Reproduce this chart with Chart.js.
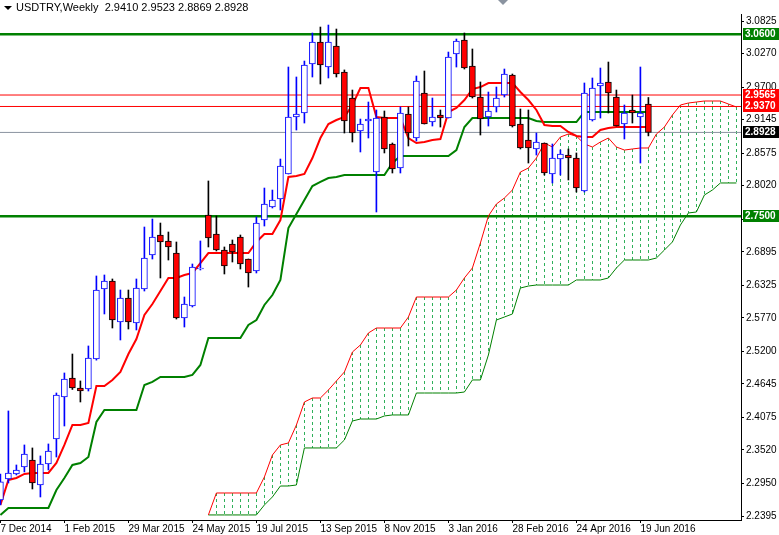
<!DOCTYPE html>
<html>
<head>
<meta charset="utf-8">
<script src="https://cdn.jsdelivr.net/npm/chart.js@4.4.0/dist/chart.umd.min.js"></script>
<style>
  html, body { margin: 0; padding: 0; background: #fff; }
  #wrap { width: 779px; height: 535px; }
</style>
</head>
<body>
<div id="wrap"><canvas id="chart" width="779" height="535"></canvas></div>
<script>
// weekly bars, index 0 = 7 Dec 2014
const dateLabels = ['7 Dec 2014', '1 Feb 2015', '29 Mar 2015', '24 May 2015', '19 Jul 2015', '13 Sep 2015', '8 Nov 2015', '3 Jan 2016', '28 Feb 2016', '24 Apr 2016', '19 Jun 2016'];
const priceTicks = [3.0825, 3.0270, 2.9700, 2.9145, 2.8575, 2.8020, 2.7450, 2.6895, 2.6325, 2.5770, 2.5200, 2.4645, 2.4075, 2.3520, 2.2950, 2.2395];

const open = [2.2668,2.3026,2.3111,2.3230,2.3349,2.2924,2.3281,2.3707,2.4422,2.4746,2.4575,2.4558,2.5069,2.6261,2.6398,2.5700,2.6108,2.5682,2.6261,2.6840,
  2.7181,2.7079,2.6874,2.5768,2.5972,2.6602,2.7522,2.7198,2.6926,2.7028,2.7147,2.6772,2.6568,2.7436,2.7658,2.7794,2.8220,2.9191,2.9259,3.0093,
  3.0468,3.0042,3.0400,2.9957,2.9514,2.8952,2.9122,2.8254,2.9191,2.8731,2.8322,2.9242,2.8833,2.9599,2.9105,2.9225,2.9173,3.0263,3.0502,3.0059,
  2.9531,2.9191,2.9361,2.9565,2.9906,2.9071,2.8799,2.8646,2.8748,2.8220,2.8475,2.8543,2.8492,2.7930,2.9139,2.9718,2.9787,2.9531,2.9071,2.9310,
  2.9191,2.9410];
const high = [2.3111,2.4184,2.3264,2.3605,2.3554,2.3418,2.3622,2.4490,2.4831,2.5154,2.4695,2.5291,2.6483,2.6500,2.6432,2.6244,2.6244,2.6432,2.7317,2.7453,
  2.7385,2.7232,2.7062,2.6125,2.6687,2.7079,2.8101,2.7505,2.6977,2.7096,2.7181,2.6772,2.7488,2.7981,2.7947,2.8475,3.0042,2.9872,3.0144,3.0621,
  3.0723,3.0757,3.0689,2.9992,2.9650,2.9156,2.9446,2.9310,2.9293,2.8748,2.9361,2.9361,2.9889,2.9974,2.9514,2.9310,3.0297,3.0519,3.0621,3.0349,
  2.9787,2.9616,2.9701,3.0008,2.9923,2.9327,2.9310,2.8918,2.8748,2.8731,2.8629,2.8646,2.8578,2.9770,2.9855,3.0025,3.0127,2.9650,2.9395,2.9565,
  3.0042,2.9523];
const low = [2.2583,2.2958,2.3094,2.3145,2.2855,2.2719,2.3179,2.3400,2.3928,2.4550,2.4337,2.4524,2.5050,2.5836,2.5597,2.5393,2.5580,2.5563,2.6227,2.6772,
  2.6449,2.6755,2.5750,2.5614,2.5955,2.6585,2.6977,2.6909,2.6517,2.6721,2.6602,2.6295,2.6534,2.7334,2.7641,2.7607,2.8220,2.8969,2.9088,2.9872,
  2.9753,2.9855,2.9872,2.8918,2.8765,2.8595,2.8833,2.7573,2.8578,2.8237,2.8237,2.8697,2.8782,2.9071,2.9037,2.9020,2.9173,3.0042,3.0008,2.9514,
  2.8884,2.9037,2.9276,2.9531,2.9020,2.8646,2.8407,2.8543,2.8203,2.8067,2.8203,2.8118,2.7913,2.7913,2.9122,2.9173,2.9259,2.9037,2.8816,2.9088,
  2.8407,2.8869];
const close = [2.2975,2.3128,2.3179,2.3451,2.2958,2.3281,2.3502,2.4456,2.4729,2.4575,2.4524,2.5086,2.6244,2.6398,2.5734,2.6108,2.5700,2.6278,2.6789,2.7147,
  2.7062,2.6977,2.5768,2.6006,2.6636,2.6619,2.7130,2.6926,2.6653,2.6891,2.6687,2.6534,2.7385,2.7709,2.7777,2.8356,2.9191,2.9242,3.0076,3.0468,
  3.0076,3.0468,2.9923,2.9122,2.8918,2.9071,2.9156,2.9173,2.8646,2.8305,2.9259,2.8918,2.9804,2.9071,2.9191,2.9173,3.0212,3.0485,3.0025,2.9531,
  2.9156,2.9293,2.9514,2.9923,2.9037,2.8663,2.8663,2.8765,2.8237,2.8492,2.8561,2.8492,2.7981,2.9599,2.9684,2.9770,2.9599,2.9037,2.9259,2.9259,
  2.9259,2.8928];

const tenkan = [2.2583,2.3009,2.3043,2.3111,2.3128,2.3128,2.3128,2.3298,2.3605,2.3945,2.3945,2.3979,2.4609,2.4609,2.4712,2.4848,2.5154,2.5410,2.5819,2.6006,
  2.6227,2.6449,2.6449,2.6500,2.6534,2.6704,2.6874,2.6874,2.6874,2.6874,2.6874,2.6874,2.7062,2.7198,2.7198,2.7436,2.8169,2.8186,2.8220,2.8492,
  2.8833,2.9071,2.9139,2.9190,2.9395,2.9684,2.9684,2.9190,2.9173,2.9173,2.9173,2.8833,2.8748,2.8765,2.8799,2.8816,2.9276,2.9344,2.9480,2.9667,
  2.9701,2.9770,2.9770,2.9770,2.9770,2.9616,2.9480,2.9310,2.9054,2.9037,2.9037,2.8935,2.8867,2.8850,2.8850,2.8969,2.9003,2.9020,2.9020,2.9020,
  2.9020,2.9020];
const kijun = [2.2413,2.2532,2.2532,2.2532,2.2532,2.2532,2.2532,2.2838,2.3043,2.3264,2.3298,2.3400,2.3996,2.4201,2.4201,2.4201,2.4201,2.4201,2.4626,2.4678,
  2.4763,2.4763,2.4763,2.4763,2.4797,2.4967,2.5427,2.5427,2.5427,2.5427,2.5427,2.5648,2.5733,2.5989,2.6159,2.6415,2.7300,2.7539,2.7777,2.8015,
  2.8084,2.8152,2.8169,2.8203,2.8203,2.8203,2.8203,2.8203,2.8203,2.8407,2.8526,2.8526,2.8526,2.8526,2.8526,2.8526,2.8526,2.8628,2.9020,2.9173,
  2.9173,2.9173,2.9173,2.9173,2.9173,2.9173,2.9173,2.9122,2.9105,2.9105,2.9105,2.9105,2.9105,2.9276,2.9276,2.9276,2.9276,2.9276,2.9276,2.9276,
  2.9276,2.9276];

// cloud, shifted 26 weeks ahead: index 26..92
const cloudStart = 26;
const spanA = [2.2413,2.2787,2.2787,2.2787,2.2787,2.2787,2.2787,2.3060,2.3434,2.3605,2.3639,2.3945,2.4337,2.4405,2.4405,2.4541,2.4695,2.4848,2.5188,2.5308,
  2.5512,2.5597,2.5597,2.5597,2.5597,2.5784,2.6125,2.6125,2.6125,2.6125,2.6125,2.6244,2.6449,2.6619,2.7045,2.7505,2.7709,2.7811,2.7947,2.8254,
  2.8322,2.8492,2.8748,2.8680,2.8850,2.8901,2.8867,2.8731,2.8680,2.8765,2.8833,2.8680,2.8628,2.8646,2.8663,2.8663,2.8901,2.9020,2.9225,2.9395,
  2.9429,2.9446,2.9463,2.9463,2.9463,2.9412,2.9361];
const spanB = [2.2413,2.2413,2.2413,2.2413,2.2413,2.2413,2.2413,2.2583,2.2719,2.2906,2.2906,2.2923,2.3554,2.3554,2.3554,2.3554,2.3554,2.3690,2.4013,2.4047,
  2.4047,2.4047,2.4099,2.4116,2.4116,2.4116,2.4490,2.4490,2.4490,2.4490,2.4490,2.4490,2.4507,2.4712,2.4712,2.5137,2.5733,2.5784,2.5836,2.6278,
  2.6312,2.6329,2.6329,2.6329,2.6329,2.6329,2.6415,2.6415,2.6415,2.6415,2.6449,2.6619,2.6755,2.6755,2.6755,2.6755,2.6789,2.6925,2.7062,2.7351,
  2.7556,2.7573,2.7862,2.7947,2.8067,2.8067,2.8067];

const levels = [
  { v: 3.0600, color: '#008000', width: 2.5, text: '3.0600', bg: '#008000' },
  { v: 2.9565, color: '#ff0000', width: 1, text: '2.9565', bg: '#ff0000' },
  { v: 2.9370, color: '#ff0000', width: 1, text: '2.9370', bg: '#ff0000' },
  { v: 2.8928, color: '#8a93a0', width: 1, text: '2.8928', bg: '#000000' },
  { v: 2.7500, color: '#008000', width: 2.5, text: '2.7500', bg: '#008000' }
];

const X_MIN = -0.05, X_MAX = 92.575;
const bullish = open.map((o, i) => close[i] >= o);

const wicks = high.map((h, i) => ({ x: i, y: [low[i], h] }));
const bodies = open.map((o, i) => ({ x: i, y: [o, close[i]] }));
const pts = arr => arr.map((v, i) => ({ x: i, y: v }));
const cloudPts = arr => arr.map((v, i) => ({ x: i + cloudStart, y: v }));

const levelSets = levels.map(l => ({
  type: 'line',
  data: [{ x: X_MIN, y: l.v }, { x: X_MAX, y: l.v }],
  borderColor: l.color,
  borderWidth: l.width,
  pointRadius: 0,
  order: 6
}));

// dashed vertical hatching between the two cloud spans
const cloudHatch = {
  id: 'cloudHatch',
  beforeDatasetsDraw(chart) {
    const { ctx, scales: { x, y } } = chart;
    ctx.save();
    ctx.strokeStyle = '#2fb05a';
    ctx.lineWidth = 1;
    ctx.setLineDash([3, 3]);
    for (let k = 0; k < spanA.length; k++) {
      const px = Math.round(x.getPixelForValue(k + cloudStart)) + 0.5;
      ctx.beginPath();
      ctx.moveTo(px, y.getPixelForValue(spanA[k]));
      ctx.lineTo(px, y.getPixelForValue(spanB[k]));
      ctx.stroke();
    }
    ctx.restore();
  }
};

const overlay = {
  id: 'overlay',
  afterDraw(chart) {
    const { ctx, scales: { y }, chartArea } = chart;
    ctx.save();
    // title
    ctx.fillStyle = '#000';
    ctx.beginPath();
    ctx.moveTo(4, 6); ctx.lineTo(12, 6); ctx.lineTo(8, 10); ctx.closePath(); ctx.fill();
    ctx.font = '11px "Liberation Sans", Arial, sans-serif';
    ctx.textBaseline = 'middle';
    ctx.fillText('USDTRY,Weekly  2.9410 2.9523 2.8869 2.8928', 16, 8);
    // shift marker
    ctx.fillStyle = '#8a93a0';
    ctx.beginPath();
    ctx.moveTo(498, 0); ctx.lineTo(508, 0); ctx.lineTo(503, 5); ctx.closePath(); ctx.fill();
    // price labels
    levels.forEach(l => {
      const py = Math.round(y.getPixelForValue(l.v));
      ctx.fillStyle = l.bg;
      ctx.fillRect(chartArea.right + 2, py - 6, 36, 12);
      ctx.fillStyle = '#fff';
      ctx.font = 'bold 10px "Liberation Sans", Arial, sans-serif';
      ctx.fillText(l.text, chartArea.right + 4, py + 0.5);
    });
    ctx.restore();
  }
};

new Chart(document.getElementById('chart').getContext('2d'), {
  data: {
    datasets: [
      {
        type: 'bar',
        data: bodies,
        barThickness: 6,
        grouped: false,
        backgroundColor: ctx => bullish[ctx.dataIndex] ? '#ffffff' : '#ff0000',
        borderColor: ctx => bullish[ctx.dataIndex] ? '#0000ff' : '#000000',
        borderWidth: 1,
        borderSkipped: false,
        order: 1
      },
      {
        type: 'bar',
        data: wicks,
        barThickness: 1,
        grouped: false,
        backgroundColor: ctx => bullish[ctx.dataIndex] ? '#0000ff' : '#000000',
        borderWidth: 0,
        order: 2
      },
      { type: 'line', data: pts(tenkan), borderColor: '#ff0000', borderWidth: 2, pointRadius: 0, order: 3 },
      { type: 'line', data: pts(kijun), borderColor: '#008000', borderWidth: 2, pointRadius: 0, order: 4 },
      { type: 'line', data: cloudPts(spanA), borderColor: '#ff0000', borderWidth: 1, pointRadius: 0, order: 5 },
      { type: 'line', data: cloudPts(spanB), borderColor: '#008000', borderWidth: 1, pointRadius: 0, order: 5 },
      ...levelSets
    ]
  },
  plugins: [cloudHatch, overlay],
  options: {
    responsive: false,
    animation: false,
    layout: { padding: { top: 14, left: 0, right: 0, bottom: 0 } },
    plugins: { legend: { display: false }, tooltip: { enabled: false } },
    scales: {
      x: {
        type: 'linear',
        offset: false,
        min: X_MIN,
        max: X_MAX,
        afterBuildTicks: scale => { scale.ticks = dateLabels.map((d, i) => ({ value: i * 8 })); },
        afterFit: scale => { scale.height = 15; scale.paddingLeft = 0; scale.paddingRight = 0; },
        grid: { drawOnChartArea: false, tickLength: 3, color: '#000', offset: false },
        border: { color: '#000', width: 1 },
        ticks: {
          align: 'start',
          maxRotation: 0,
          autoSkip: false,
          padding: 0,
          color: '#000',
          font: { family: 'Liberation Sans', size: 10 },
          callback: (v) => dateLabels[Math.round(v / 8)]
        }
      },
      y: {
        position: 'right',
        min: 2.2327,
        max: 3.0945,
        afterBuildTicks: scale => { scale.ticks = priceTicks.map(v => ({ value: v })); },
        afterFit: scale => { scale.width = 38; scale.paddingTop = 0; scale.paddingBottom = 0; },
        grid: { drawOnChartArea: false, tickLength: 3, color: '#000' },
        border: { color: '#000', width: 1 },
        ticks: {
          autoSkip: false,
          padding: 2,
          color: '#000',
          font: { family: 'Liberation Sans', size: 10 },
          callback: v => v.toFixed(4)
        }
      }
    }
  }
});
</script>
</body>
</html>
